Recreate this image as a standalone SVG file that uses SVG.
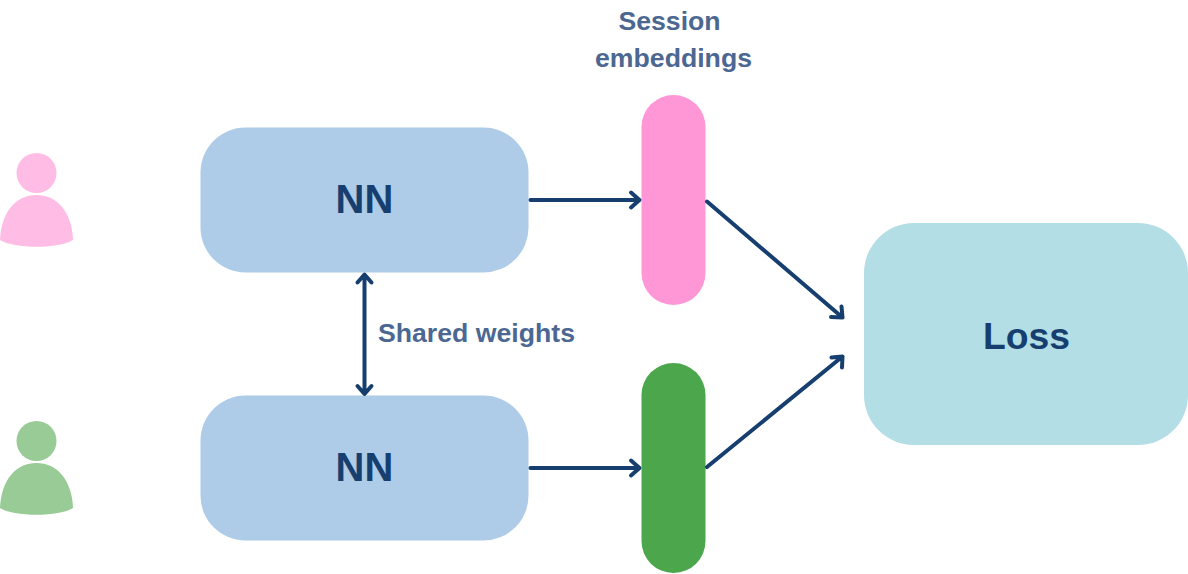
<svg xmlns="http://www.w3.org/2000/svg" width="1188" height="574" viewBox="0 0 1188 574">
<style>
.nn{fill:#aecbe8}
.t{font-family:"Liberation Sans",Arial,sans-serif;font-weight:700;fill:#163f70;text-anchor:middle}
.l{font-family:"Liberation Sans",Arial,sans-serif;font-weight:700;fill:#4c6892;font-size:26.67px;text-anchor:middle}
.c{fill:none;stroke:#163f70;stroke-width:4;stroke-linecap:round;stroke-linejoin:round}
</style>
<rect width="1188" height="574" fill="#fff"/>
<g id="user-pink" fill="#ffbde6">
<circle cx="36.500" cy="173" r="20"/>
<path d="M0 240C1 212 16 195 36.500 195C57 195 72 212 73 240C60 249 13 249 0 240Z"/>
</g>
<g id="user-green" fill="#98cb95">
<circle cx="36.500" cy="441" r="20"/>
<path d="M0 508C1 480 16 463 36.500 463C57 463 72 480 73 508C60 517 13 517 0 508Z"/>
</g>
<g id="nn-top"><rect class="nn" x="200.500" y="127.500" width="328" height="145" rx="45"/><text class="t" x="364.500" y="213" font-size="40">NN</text></g>
<g id="nn-bottom"><rect class="nn" x="200.500" y="395.500" width="328" height="145" rx="45"/><text class="t" x="364.500" y="481" font-size="40">NN</text></g>
<g id="embedding-pink"><rect x="641.500" y="95" width="64" height="210" rx="32" fill="#ff97d6"/></g>
<g id="embedding-green"><rect x="641.500" y="363" width="64" height="210" rx="32" fill="#4ca64c"/></g>
<g id="loss"><rect x="864" y="223" width="324" height="222" rx="50" fill="#b3dee5"/><text class="t" x="1026.500" y="349" font-size="37.300">Loss</text></g>
<g id="labels">
<text class="l" x="669.500" y="30">Session</text>
<text class="l" x="673.500" y="67">embeddings</text>
<text class="l" x="476.500" y="342">Shared weights</text>
</g>
<g id="connectors" class="c">
<path d="M530.500 200H639M631 192.500L639.500 200L631 207.500"/>
<path d="M530.500 468H639M631 460.500L639.500 468L631 475.500"/>
<path d="M364.500 275V393M357.500 282.500L364.500 274.500L371.500 282.500M357.500 386L364.500 394L371.500 386"/>
<path d="M707 201.500L842.500 317.500M831 317L842.500 317.500L841.500 306.500"/>
<path d="M707 467L842.500 356.500M831.500 357.500L842.500 356.500L842 367.500"/>
</g>
</svg>
